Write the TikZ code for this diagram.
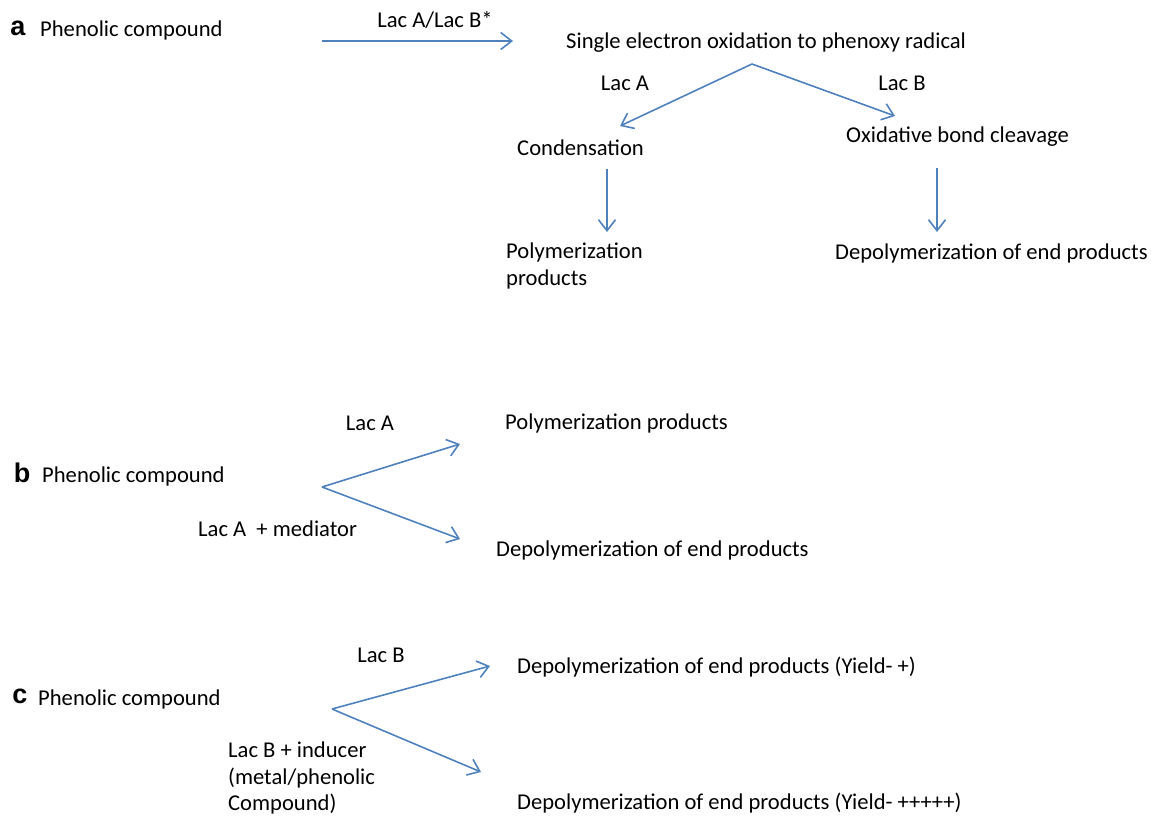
\documentclass[tikz,border=0pt]{standalone}
\usepackage{fontspec}
\setmainfont{Carlito}
\newfontfamily\panelfont{Liberation Sans}
\usetikzlibrary{arrows.meta}
\definecolor{flowblue}{RGB}{79,129,189}

\begin{document}
\begin{tikzpicture}[x=1pt, y=-1pt,
  every node/.style={font=\fontsize{22.6}{26.5}\selectfont, inner sep=0pt},
  txt/.style={anchor=west, align=left},
  lab/.style={anchor=center},
  panel/.style={anchor=center, font=\fontsize{27}{30}\selectfont\panelfont\bfseries},
  flow/.style={-{Straight Barb[length=11pt, width=17pt]}, line width=1.6pt, flowblue},
]
\useasboundingbox (0,0) rectangle (1151,818);

% Panel a
\node[panel] (la) at (18, 28) {a};
\node[txt] (a0) at (40, 30) {Phenolic compound};
\coordinate (a0s) at (322, 41);
\coordinate (a0e) at (513, 41);
\node[lab] (alab) at (435, 20) {Lac A/Lac B*};
\node[txt] (a1) at (566, 43) {Single electron oxidation to phenoxy radical};
\coordinate (asplit) at (752, 64);
\coordinate (aleft) at (620, 126);
\coordinate (aright) at (895, 116);
\node[lab] (alacA) at (625, 83) {Lac A};
\node[lab] (alacB) at (902, 83) {Lac B};
\node[txt] (a2) at (517, 148) {Condensation};
\node[txt] (a3) at (846, 137) {Oxidative bond cleavage};
\coordinate (a2s) at (607, 169);
\coordinate (a2e) at (607, 232);
\coordinate (a3s) at (937, 168);
\coordinate (a3e) at (937, 232);
\node[txt] (a4) at (506, 266) {Polymerization\\products};
\node[txt] (a5) at (835, 253) {Depolymerization of end products};

\draw[flow] (a0s) -- (a0e);
\draw[flow] (asplit) -- (aleft);
\draw[flow] (asplit) -- (aright);
\draw[flow] (a2s) -- (a2e);
\draw[flow] (a3s) -- (a3e);

% Panel b
\node[panel] (lb) at (22, 473) {b};
\node[txt] (b0) at (42, 476) {Phenolic compound};
\coordinate (bsplit) at (322, 487);
\coordinate (bup) at (460, 444);
\coordinate (bdown) at (460, 539);
\node[lab] (blacA) at (370, 423) {Lac A};
\node[txt] (bmed) at (198, 529) {Lac A \ + mediator};
\node[txt] (b1) at (505, 423) {Polymerization products};
\node[txt] (b2) at (496, 550) {Depolymerization of end products};

\draw[flow] (bsplit) -- (bup);
\draw[flow] (bsplit) -- (bdown);

% Panel c
\node[panel] (lc) at (20, 696) {c};
\node[txt] (c0) at (38, 699) {Phenolic compound};
\coordinate (csplit) at (332, 709);
\coordinate (cup) at (490, 666);
\coordinate (cdown) at (481, 772);
\node[lab] (clacB) at (381, 655) {Lac B};
\node[txt] (cind) at (228, 778) {Lac B + inducer\\(metal/phenolic\\Compound)};
\node[txt] (c1) at (517, 667) {Depolymerization of end products (Yield- +)};
\node[txt] (c2) at (517, 803) {Depolymerization of end products (Yield- +++++)};

\draw[flow] (csplit) -- (cup);
\draw[flow] (csplit) -- (cdown);

\end{tikzpicture}
\end{document}
